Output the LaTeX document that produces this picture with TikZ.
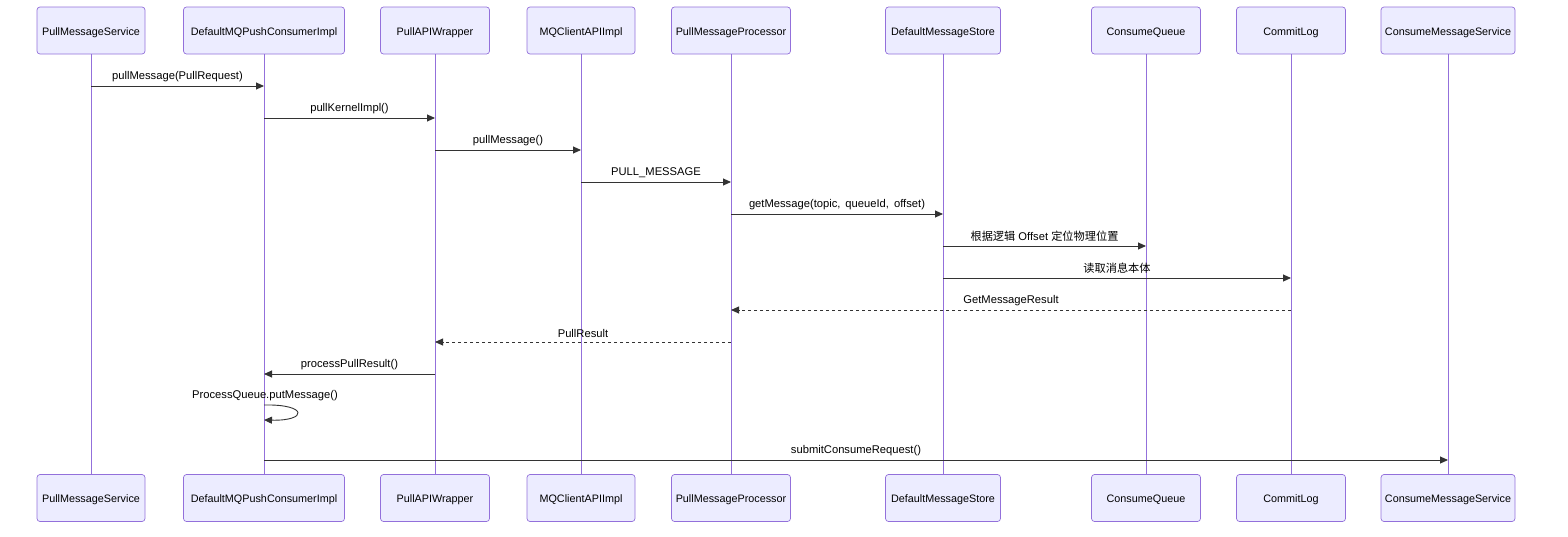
\documentclass[tikz,border=0pt]{standalone}
\usepackage{fontspec}
\setmainfont{Liberation Sans}
\newfontfamily\cjk{Noto Sans CJK SC}
\usetikzlibrary{arrows.meta}

\definecolor{actorfill}{HTML}{ECECFF}
\definecolor{actorline}{HTML}{9370DB}
\definecolor{msgline}{HTML}{333333}

\begin{document}
\begin{tikzpicture}[
  x=1pt, y=-1pt,
  font=\fontsize{11.2}{13}\selectfont,
  actor/.style={draw=actorline, fill=actorfill, rounded corners=3pt, minimum height=47pt, inner xsep=3pt, line width=0.7pt, text height=11.5pt, text depth=2pt, font=\fontsize{10.8}{12}\selectfont},
  lifeline/.style={draw=actorline, line width=1pt},
  msg/.style={draw=msgline, line width=0.9pt, -{Triangle[length=8pt,width=7pt]}},
  reply/.style={msg, dash pattern=on 3pt off 3pt},
  lbl/.style={above=3pt, text=black, inner sep=1pt}
]
  \useasboundingbox (0,0) rectangle (1568,536);

  % actors, top and bottom
  \foreach \name/\x/\w/\txt in {
      pms/91/108/PullMessageService,
      dmq/264/161/DefaultMQPushConsumerImpl,
      paw/435/109/PullAPIWrapper,
      mca/581/108/MQClientAPIImpl,
      pmp/731/119/PullMessageProcessor,
      dms/943/115/DefaultMessageStore,
      cq/1146/109/ConsumeQueue,
      cl/1291/109/CommitLog,
      cms/1448/134/ConsumeMessageService} {
    \node[actor, minimum width=\w pt] (\name-t) at (\x,30.5) {\txt};
    \node[actor, minimum width=\w pt] (\name-b) at (\x,498) {\txt};
    \draw[lifeline] (\name-t) -- (\name-b);
  }

  % messages
  \draw[msg] (pms-t |- 0,86) -- node[lbl] {pullMessage(PullRequest)} (dmq-t |- 0,86);
  \draw[msg] (dmq-t |- 0,118) -- node[lbl] {pullKernelImpl()} (paw-t |- 0,118);
  \draw[msg] (paw-t |- 0,150) -- node[lbl] {pullMessage()} (mca-t |- 0,150);
  \draw[msg] (mca-t |- 0,182) -- node[lbl] {PULL\_MESSAGE} (pmp-t |- 0,182);
  \draw[msg] (pmp-t |- 0,214) -- node[lbl] {getMessage(topic,\, queueId,\, offset)} (dms-t |- 0,214);
  \draw[msg] (dms-t |- 0,246) -- node[lbl] {{\cjk 根据逻辑} Offset {\cjk 定位物理位置}} (cq-t |- 0,246);
  \draw[msg] (dms-t |- 0,278) -- node[lbl] {\cjk 读取消息本体} (cl-t |- 0,278);
  \draw[reply] (cl-t |- 0,310) -- node[lbl] {GetMessageResult} (pmp-t |- 0,310);
  \draw[reply] (pmp-t |- 0,342) -- node[lbl] {PullResult} (paw-t |- 0,342);
  \draw[msg] (paw-t |- 0,374) -- node[lbl] {processPullResult()} (dmq-t |- 0,374);

  % self call
  \node[text=black, inner sep=1pt] (selfl) at (265,396) {ProcessQueue.putMessage()};
  \draw[msg] (dmq-t |- 0,405) .. controls (308,404) and (308,421) .. (dmq-t |- 0,420);

  \draw[msg] (dmq-t |- 0,460) -- node[lbl] {submitConsumeRequest()} (cms-t |- 0,460);
\end{tikzpicture}
\end{document}
